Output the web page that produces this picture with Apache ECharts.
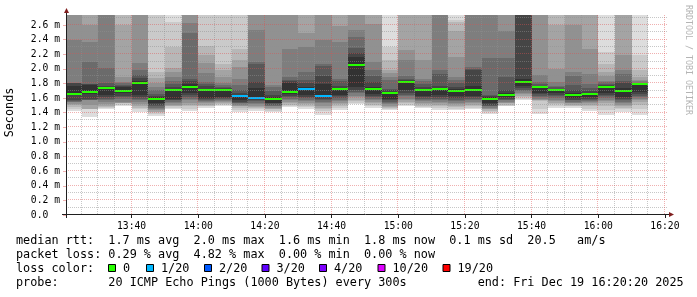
<!DOCTYPE html>
<html>
<head>
<meta charset="utf-8">
<script src="https://cdn.jsdelivr.net/npm/echarts@6.0.0/dist/echarts.min.js"></script>
<style>
html,body{margin:0;padding:0;background:#ffffff;}
#chart{width:697px;height:297px;}
</style>
</head>
<body>
<div id="chart"></div>
<script>
// ---------------- data ----------------
// view window 13:20:20 .. 16:20:20, one column per 300 s step
const viewStartLabel = '13:20:20';
const viewEndLabel = '16:20:20';
const stepMinutes = 5;
const yMax = 2.737; // ms, top of the plot

const slotTimes = ['13:20','13:25','13:30','13:35','13:40','13:45','13:50','13:55',
  '14:00','14:05','14:10','14:15','14:20','14:25','14:30','14:35','14:40','14:45','14:50','14:55',
  '15:00','15:05','15:10','15:15','15:20','15:25','15:30','15:35','15:40','15:45','15:50','15:55',
  '16:00','16:05','16:10'];

// median rtt per step (ms)
const medianRtt = [1.66,1.68,1.733,1.697,1.81,1.594,1.717,1.752,1.706,1.707,1.63,1.605,1.59,1.683,1.73,1.632,1.724,
  2.05,1.727,1.665,1.816,1.705,1.72,1.70,1.707,1.59,1.64,1.82,1.745,1.715,1.645,1.66,1.745,1.70,1.79];

// lost pings (of 20) per step
const lostPings = [0,0,0,0,0,0,0,0,0,0,1,1,0,0,1,1,0,0,0,0,0,0,0,0,0,0,0,0,0,0,0,0,0,0,0];

// the 20 sorted ping rtts per step (ms); values above the plot top are clipped
const pings = [
  [1.42,1.45,1.48,1.50,1.52,1.54,1.55,1.56,1.57,1.64,1.77,1.80,1.805,1.81,2.39,2.80,2.90,3.00,3.10,3.20],
  [1.34,1.445,1.45,1.455,1.51,1.567,1.572,1.576,1.583,1.66,1.779,1.79,1.797,2.094,2.367,2.596,2.80,2.90,3.00,3.10],
  [1.45,1.464,1.478,1.492,1.519,1.546,1.574,1.587,1.615,1.642,1.747,1.765,1.802,2.007,2.80,2.85,2.90,3.00,3.10,3.20],
  [1.485,1.512,1.526,1.533,1.539,1.553,1.587,1.615,1.628,1.663,1.745,1.765,1.779,1.80,1.824,1.892,2.60,2.80,2.90,3.00],
  [1.416,1.444,1.471,1.492,1.519,1.546,1.570,1.594,1.615,1.638,1.834,1.871,1.916,1.984,2.076,2.80,2.90,3.00,3.10,3.20],
  [1.355,1.382,1.403,1.416,1.437,1.457,1.471,1.485,1.505,1.533,1.608,1.635,1.660,1.704,1.752,1.806,1.875,1.957,2.80,2.90],
  [1.444,1.471,1.485,1.498,1.512,1.533,1.553,1.567,1.580,1.594,1.724,1.758,1.793,1.834,1.888,1.957,2.005,2.299,2.641,2.80],
  [1.423,1.457,1.485,1.512,1.539,1.567,1.587,1.615,1.642,1.663,1.797,1.834,1.861,2.484,2.627,2.80,2.90,3.00,3.10,3.20],
  [1.464,1.485,1.498,1.512,1.526,1.546,1.560,1.574,1.587,1.601,1.724,1.765,1.793,1.820,1.943,2.080,2.189,2.313,2.80,2.90],
  [1.492,1.505,1.519,1.533,1.546,1.560,1.574,1.587,1.601,1.615,1.717,1.738,1.758,1.779,1.806,1.888,1.984,2.073,2.80,2.90],
  [1.409,1.437,1.464,1.485,1.498,1.512,1.526,1.539,1.553,1.574,1.649,1.676,1.710,1.779,1.861,2.025,2.121,2.272,2.80,2.90],
  [1.430,1.450,1.464,1.478,1.498,1.519,1.539,1.560,1.580,1.615,1.738,1.820,2.066,2.094,2.527,2.80,2.90,3.00,3.10,3.20],
  [1.409,1.430,1.444,1.457,1.471,1.485,1.498,1.512,1.526,1.539,1.615,1.642,1.697,1.752,1.779,2.80,2.90,3.00,3.10,3.20],
  [1.474,1.492,1.505,1.526,1.546,1.567,1.587,1.608,1.628,1.656,1.813,1.834,1.854,1.888,2.278,2.80,2.90,3.00,3.10,3.20],
  [1.457,1.478,1.498,1.519,1.539,1.560,1.580,1.601,1.619,1.642,1.745,1.806,1.847,1.957,2.299,2.484,2.80,2.90,3.00,3.10],
  [1.375,1.423,1.450,1.471,1.498,1.526,1.546,1.567,1.594,1.622,1.793,1.902,2.039,2.073,2.395,2.80,2.90,3.00,3.10,3.20],
  [1.437,1.464,1.492,1.519,1.539,1.560,1.580,1.601,1.622,1.642,1.738,1.772,1.834,1.861,2.367,2.586,2.80,2.90,3.00,3.10],
  [1.519,1.539,1.560,1.580,1.608,1.635,1.663,1.690,1.717,1.752,2.162,2.217,2.285,2.436,2.531,2.80,2.90,3.00,3.10,3.20],
  [1.464,1.485,1.505,1.526,1.546,1.567,1.587,1.608,1.628,1.656,1.752,1.820,1.902,1.984,2.087,2.620,2.80,2.90,3.00,3.10],
  [1.433,1.450,1.464,1.478,1.498,1.519,1.539,1.553,1.567,1.587,1.683,1.710,1.731,1.847,1.888,1.943,1.984,2.121,2.299,2.80],
  [1.485,1.512,1.533,1.553,1.574,1.594,1.622,1.649,1.676,1.704,1.827,1.847,1.868,1.902,2.121,2.258,2.80,2.90,3.00,3.10],
  [1.464,1.478,1.498,1.519,1.539,1.560,1.574,1.587,1.608,1.628,1.717,1.758,1.793,1.834,1.868,2.121,2.80,2.90,3.00,3.10],
  [1.437,1.464,1.485,1.505,1.526,1.546,1.567,1.587,1.615,1.642,1.738,1.772,1.923,1.991,2.80,2.85,2.90,3.00,3.10,3.20],
  [1.437,1.457,1.478,1.498,1.519,1.539,1.560,1.580,1.601,1.622,1.724,1.758,1.813,1.847,1.888,2.162,2.518,2.641,2.668,2.80],
  [1.444,1.464,1.485,1.505,1.526,1.546,1.567,1.587,1.608,1.628,1.765,1.980,1.998,2.025,2.80,2.85,2.90,3.00,3.10,3.20],
  [1.389,1.409,1.430,1.444,1.457,1.471,1.485,1.498,1.512,1.533,1.608,1.622,1.642,2.155,2.80,2.85,2.90,3.00,3.10,3.20],
  [1.485,1.498,1.512,1.526,1.539,1.553,1.567,1.580,1.594,1.608,1.669,1.710,1.888,2.148,2.518,2.80,2.90,3.00,3.10,3.20],
  [1.567,1.594,1.615,1.635,1.656,1.676,1.697,1.717,1.738,1.765,1.861,2.80,2.85,2.90,2.95,3.00,3.10,3.20,3.30,3.40],
  [1.382,1.450,1.560,1.567,1.574,1.594,1.615,1.635,1.656,1.676,1.752,1.772,1.793,1.820,1.916,2.80,2.90,3.00,3.10,3.20],
  [1.464,1.492,1.519,1.539,1.560,1.580,1.601,1.622,1.642,1.663,1.717,1.731,1.745,1.765,1.820,1.998,2.600,2.80,2.90,3.00],
  [1.464,1.485,1.498,1.512,1.526,1.539,1.553,1.567,1.580,1.601,1.669,1.710,1.779,1.902,1.957,2.600,2.80,2.90,3.00,3.10],
  [1.430,1.457,1.485,1.505,1.526,1.546,1.560,1.574,1.587,1.608,1.669,1.697,1.738,1.793,1.936,2.278,2.80,2.90,3.00,3.10],
  [1.375,1.437,1.485,1.526,1.560,1.580,1.601,1.622,1.642,1.663,1.758,1.779,1.799,1.820,1.840,1.902,1.957,2.066,2.230,2.80],
  [1.409,1.444,1.471,1.492,1.512,1.533,1.553,1.574,1.594,1.615,1.738,1.806,1.840,1.930,1.984,2.189,2.80,2.90,3.00,3.10],
  [1.375,1.450,1.512,1.546,1.574,1.594,1.615,1.635,1.656,1.683,1.786,1.795,1.804,1.813,1.827,1.854,1.888,1.984,2.189,2.80]
];

// axis tick labels
const timeTickLabels = ['13:40','14:00','14:20','14:40','15:00','15:20','15:40','16:00','16:20'];
const rttTickValues = [0,0.2,0.4,0.6,0.8,1.0,1.2,1.4,1.6,1.8,2.0,2.2,2.4,2.6];

// loss colour legend
const lossLegendLabels = ['0','1/20','2/20','3/20','4/20','10/20','19/20'];
const lossLegendCounts = [0,1,2,3,4,10,19];
const lossLegendColors = ['#26ff00','#00b8ff','#0059ff','#5e00ff','#7e00ff','#dd00ff','#ff0000'];

// text block under the chart
const legendLines = [
  'median rtt:  1.7 ms avg  2.0 ms max  1.6 ms min  1.8 ms now  0.1 ms sd  20.5   am/s',
  'packet loss: 0.29 % avg  4.82 % max  0.00 % min  0.00 % now',
  'loss color:',
  'probe:       20 ICMP Echo Pings (1000 Bytes) every 300s          end: Fri Dec 19 16:20:20 2025'
];
const watermark = 'RRDTOOL / TOBI OETIKER';
const yAxisTitle = 'Seconds';

// ---------------- helpers ----------------
function toMin(s){ const p = s.split(':').map(Number); return p[0]*60 + p[1] + (p[2]||0)/60; }
function lossColor(n){
  let c = lossLegendColors[0];
  for (let i=0;i<lossLegendCounts.length;i++){ if (n >= lossLegendCounts[i]) c = lossLegendColors[i]; }
  return c;
}
const viewStart = toMin(viewStartLabel);
const viewEnd = toMin(viewEndLabel);
const timeTickValues = timeTickLabels.map(toMin);

const MONO = '"DejaVu Sans Mono", monospace';
const GRID_MINOR = 'rgba(143,143,143,0.5)';
const GRID_MAJOR = 'rgba(222,79,79,0.45)';
const AXIS_COL = '#1f1f1f';
const ARROW_COL = '#801f1f';

const smokeData = slotTimes.map((t,i)=>[toMin(t), toMin(t)+stepMinutes].concat(pings[i]));
const medianData = slotTimes.map((t,i)=>[toMin(t), toMin(t)+stepMinutes, medianRtt[i], lostPings[i]]);

// grid line positions derived from the tick values
const vMajor = timeTickValues.map(v=>[v, 0]);
const vMinor = [];
for (let m = Math.ceil(viewStart/stepMinutes)*stepMinutes; m <= viewEnd; m += stepMinutes){
  if (Math.abs(m % 20) > 1e-6) vMinor.push([m, 0]);
}
const hMajor = rttTickValues.filter(v=>v>0).map(v=>[viewStart, v]);
const hMinor = rttTickValues.map(v=>v+0.1).filter(v=>v<yMax).map(v=>[viewStart, +v.toFixed(2)]);

function csRect(params){ const c = params.coordSys; return {x:c.x, y:c.y, width:c.width, height:c.height}; }

function renderSmoke(params, api){
  const cs = csRect(params);
  const x0 = api.value(0), x1 = api.value(1);
  const children = [];
  for (let ib = 1; ib <= 10; ib++){
    const lo = api.value(1 + ib);
    const hi = api.value(22 - ib);
    const a = api.coord([x0, hi]);
    const b = api.coord([x1, lo]);
    const ax = Math.round(a[0]), bx = Math.round(b[0]);
    const ay = Math.round(a[1]), by = Math.round(b[1]);
    const r = echarts.graphic.clipRectByRect({x:ax, y:ay, width:bx-ax, height:by-ay}, cs);
    if (!r || r.width <= 0 || r.height <= 0) continue;
    const g = Math.floor(190/10*(10-ib)) + 50;
    children.push({type:'rect', shape:r, style:{fill:'rgb('+g+','+g+','+g+')'}});
  }
  return {type:'group', children};
}

function renderMedian(params, api){
  const cs = csRect(params);
  const x0 = api.value(0), x1 = api.value(1), m = api.value(2), lost = api.value(3);
  const a = api.coord([x0, m]);
  const b = api.coord([x1, m]);
  const ax = Math.round(a[0]), bx = Math.round(b[0]);
  const ym = Math.round(a[1]);
  const r = echarts.graphic.clipRectByRect({x:ax, y:ym-1, width:bx-ax, height:2}, cs);
  if (!r) return null;
  return {type:'rect', shape:r, style:{fill:lossColor(lost)}};
}

function vLineRenderer(color){
  return function(params, api){
    const cs = csRect(params);
    const x = Math.round(api.coord([api.value(0), 0])[0]) - 0.5;
    return {type:'line', shape:{x1:x, y1:cs.y, x2:x, y2:cs.y+cs.height},
      style:{stroke:color, lineWidth:1, lineDash:[1,1], lineDashOffset:0, lineCap:'butt'}};
  };
}
function hLineRenderer(color){
  return function(params, api){
    const cs = csRect(params);
    const y = Math.round(api.coord([viewStart, api.value(1)])[1]) - 0.5;
    return {type:'line', shape:{x1:cs.x, y1:y, x2:cs.x+cs.width+2, y2:y},
      style:{stroke:color, lineWidth:1, lineDash:[1,1], lineDashOffset:0, lineCap:'butt'}};
  };
}

// ---------------- chart ----------------
const chart = echarts.init(document.getElementById('chart'), null, {renderer:'canvas', width:697, height:297});

const G = {left:66, top:15, width:600, height:200};

const graphics = [];
// axis extensions and arrows
graphics.push({type:'line', silent:true, z:10, shape:{x1:G.left-4, y1:G.top+G.height-0.5, x2:G.left+G.width+3, y2:G.top+G.height-0.5}, style:{stroke:AXIS_COL, lineWidth:1}});
graphics.push({type:'line', silent:true, z:10, shape:{x1:G.left+0.5, y1:G.top-2, x2:G.left+0.5, y2:G.top+G.height+3}, style:{stroke:AXIS_COL, lineWidth:1}});
graphics.push({type:'polygon', silent:true, z:10, shape:{points:[[G.left-2, G.top-2],[G.left+3, G.top-2],[G.left+0.5, G.top-7]]}, style:{fill:ARROW_COL}});
graphics.push({type:'polygon', silent:true, z:10, shape:{points:[[G.left+G.width+3, G.top+G.height-3],[G.left+G.width+3, G.top+G.height+2],[G.left+G.width+8, G.top+G.height-0.5]]}, style:{fill:ARROW_COL}});
// y axis title
graphics.push({type:'text', silent:true, x:10, y:112.5, rotation:Math.PI/2,
  style:{text:yAxisTitle, font:'11.8px '+MONO, fill:'#000', align:'center', verticalAlign:'middle'}});
// watermark
graphics.push({type:'text', silent:true, x:688, y:60, rotation:-Math.PI/2,
  style:{text:watermark, font:'8.3px '+MONO, fill:'#b4b4b4', align:'center', verticalAlign:'middle'}});
// legend text lines
const lineY = [241, 255, 269, 283];
legendLines.forEach((t,i)=>{
  graphics.push({type:'text', silent:true, x:16, y:lineY[i],
    style:{text:t, font:'11.8px '+MONO, fill:'#000', align:'left', verticalAlign:'middle'}});
});
// loss colour boxes
const boxX = [108, 146, 204, 261.5, 319, 377.5, 442.5];
lossLegendLabels.forEach((lab,i)=>{
  graphics.push({type:'rect', silent:true, shape:{x:boxX[i]+0.5, y:264.5, width:7, height:7},
    style:{fill:lossLegendColors[i], stroke:'#000', lineWidth:1}});
  graphics.push({type:'text', silent:true, x:boxX[i]+15, y:269,
    style:{text:lab, font:'11.8px '+MONO, fill:'#000', align:'left', verticalAlign:'middle'}});
});

const option = {
  animation:false,
  backgroundColor:'#ffffff',
  grid:{left:G.left, top:G.top, width:G.width, height:G.height, containLabel:false},
  xAxis:{
    type:'value', min:viewStart, max:viewEnd,
    axisLine:{show:false},
    axisTick:{show:true, customValues:timeTickValues, length:3, lineStyle:{color:AXIS_COL, width:1}},
    axisLabel:{show:true, customValues:timeTickValues, margin:6,
      formatter:(v)=>{ const i = timeTickValues.findIndex(t=>Math.abs(t-v)<1e-6); return i>=0 ? timeTickLabels[i] : ''; },
      fontFamily:MONO, fontSize:9.7, color:'#000'},
    splitLine:{show:false}
  },
  yAxis:{
    type:'value', min:0, max:yMax, interval:0.2,
    axisLine:{show:false},
    axisTick:{show:true, customValues:rttTickValues, length:3, lineStyle:{color:GRID_MAJOR, width:1}},
    axisLabel:{show:true, customValues:rttTickValues, margin:6,
      formatter:(v)=> Math.abs(v) < 1e-9 ? '0.0  ' : v.toFixed(1) + ' m',
      fontFamily:MONO, fontSize:9.7, color:'#000'},
    splitLine:{show:false}
  },
  series:[
    {type:'custom', name:'smoke', renderItem:renderSmoke, data:smokeData, z:2, silent:true,
      encode:{x:[0,1], y:[2,21]}},
    {type:'custom', name:'median', renderItem:renderMedian, data:medianData, z:3, silent:true,
      encode:{x:[0,1], y:2}},
    {type:'custom', name:'vMinor', renderItem:vLineRenderer(GRID_MINOR), data:vMinor, z:4, silent:true, encode:{x:0, y:1}},
    {type:'custom', name:'hMinor', renderItem:hLineRenderer(GRID_MINOR), data:hMinor, z:4, silent:true, encode:{x:0, y:1}},
    {type:'custom', name:'vMajor', renderItem:vLineRenderer(GRID_MAJOR), data:vMajor, z:5, silent:true, encode:{x:0, y:1}},
    {type:'custom', name:'hMajor', renderItem:hLineRenderer(GRID_MAJOR), data:hMajor, z:5, silent:true, encode:{x:0, y:1}}
  ],
  graphic:graphics
};
chart.setOption(option);
</script>
</body>
</html>
